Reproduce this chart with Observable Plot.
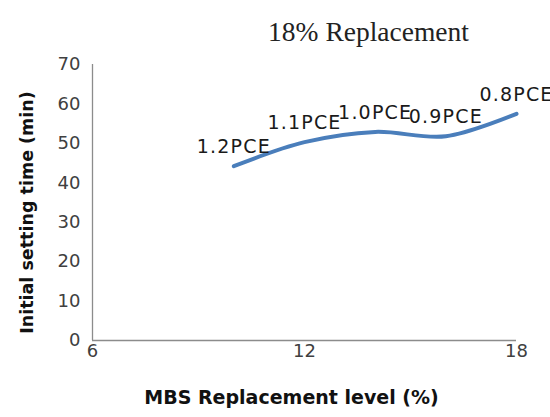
<!DOCTYPE html>
<html>
<head>
<meta charset="utf-8">
<script src="https://cdn.jsdelivr.net/npm/d3@7"></script>
<script src="https://cdn.jsdelivr.net/npm/@observablehq/plot@0.6"></script>
<style>
  body { margin: 0; background: #fff; }
  #chart svg { display: block; }
</style>
</head>
<body>
<div id="chart"></div>
<script>
const replacementLevel = [10, 12, 14, 16, 18];
const settingTime = [44.2, 50.3, 52.9, 51.8, 57.5];
const pceLabels = ["1.2PCE", "1.1PCE", "1.0PCE", "0.9PCE", "0.8PCE"];
const xTicks = [6, 12, 18];
const yTicks = [0, 10, 20, 30, 40, 50, 60, 70];
const title = "18% Replacement";
const xLabel = "MBS Replacement level (%)";
const yLabel = "Initial setting time (min)";

const data = replacementLevel.map((x, i) => ({x, y: settingTime[i], label: pceLabels[i]}));

const chart = Plot.plot({
  width: 550,
  height: 417,
  marginLeft: 92,
  marginRight: 34,
  marginTop: 64,
  marginBottom: 77,
  style: {fontFamily: "DejaVu Sans", background: "#fff"},
  x: {domain: [6, 18]},
  y: {domain: [0, 70]},
  marks: [
    Plot.axisX({ticks: xTicks, tickSize: 0, tickPadding: 4, label: null, fontSize: 18, fill: "#404040", tickFormat: d => d}),
    Plot.axisY({ticks: yTicks, tickSize: 0, tickPadding: 12, label: null, fontSize: 18, fill: "#404040", tickFormat: d => d}),
    Plot.ruleY([0], {stroke: "#8c8c8c", strokeWidth: 1.3}),
    Plot.ruleX([6], {stroke: "#8c8c8c", strokeWidth: 1.3}),
    Plot.line(data, {x: "x", y: "y", curve: "catmull-rom", stroke: "#4a7ebb", strokeWidth: 4}),
    Plot.text(data, {x: "x", y: "y", text: "label", dy: -19, fontSize: 19, fill: "#1a1a1a"}),
    Plot.text([title], {frameAnchor: "top", lineAnchor: "middle", dx: 64, dy: -32, fontSize: 27.5, fontFamily: "Liberation Serif", fill: "#222"}),
    Plot.text([xLabel], {frameAnchor: "bottom", lineAnchor: "middle", dx: -13, dy: 57, fontSize: 19, fontWeight: "bold", fill: "#111"}),
    Plot.text([yLabel], {frameAnchor: "left", dx: -65, dy: 10, rotate: -90, textAnchor: "middle", fontSize: 17.5, fontWeight: "bold", fill: "#111"})
  ]
});
d3.select(chart).selectAll("text")
  .filter(function() { return pceLabels.includes(this.textContent); })
  .attr("letter-spacing", "1.2px");
document.getElementById("chart").appendChild(chart);
</script>
</body>
</html>
